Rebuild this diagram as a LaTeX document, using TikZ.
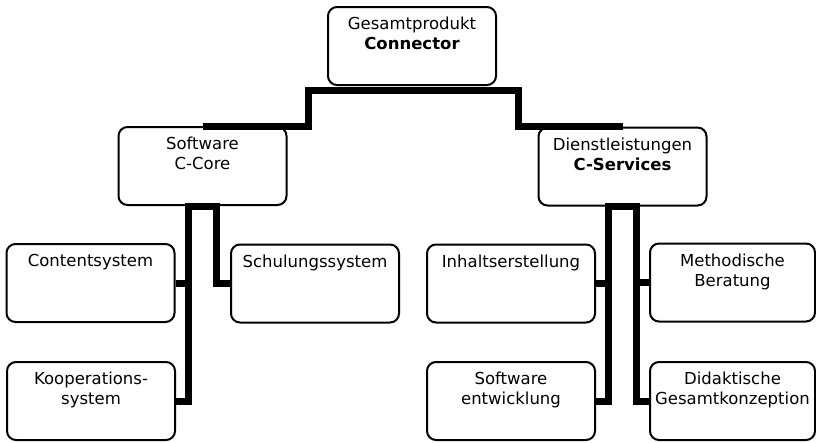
\documentclass[tikz,border=0pt]{standalone}
\usepackage{fontspec}
\setmainfont{DejaVu Sans}
\usetikzlibrary{calc}

\tikzset{
  box/.style={draw, rounded corners=9pt, line width=2pt, fill=white, inner sep=0pt,
    minimum width=168pt, minimum height=78pt, font=\fontsize{16.5}{20}\selectfont,
    execute at begin node={\begin{minipage}[c][58pt][t]{164pt}\centering},
    execute at end node={\end{minipage}}},
  conn/.style={line width=7pt}
}

\begin{document}
\begin{tikzpicture}[x=1pt, y=-1pt]
\useasboundingbox (0,0) rectangle (816,442);

\node[box] (top) at (412,46) {Gesamtprodukt\\\textbf{Connector}};
\node[box] (core) at (202.5,166) {Software\\C-Core};
\node[box] (serv) at (622.5,166.5) {Dienstleistungen\\\textbf{C-Services}};
\node[box] (content) at (90.5,283) {Contentsystem};
\node[box] (schulung) at (315,283.5) {Schulungssystem};
\node[box] (koop) at (91,401) {Kooperations-\\system};
\node[box] (inhalt) at (511,283.5) {Inhaltserstellung};
\node[box, minimum width=165pt] (method) at (732.5,282.5) {Methodische\\Beratung};
\node[box] (swentw) at (511,401) {Software\\entwicklung};
\node[box, minimum width=165pt] (didakt) at (732.5,401) {Didaktische\\Gesamtkonzeption};

% top level
\draw[conn] (core.north) -| ([xshift=-104pt,yshift=-4pt]top.south)
  -| ([xshift=106pt,yshift=-4pt]top.south) |- (serv.north);

% C-Core
\draw[conn] (content.east) -| ([xshift=-14pt]core.south) -- ([xshift=14pt]core.south) |- (schulung.west);
\draw[conn] (koop.east) -| ([xshift=-14pt]core.south);

% C-Services
\draw[conn] (inhalt.east) -| ([xshift=-14pt]serv.south) -- ([xshift=14pt]serv.south) |- (method.west);
\draw[conn] (swentw.east) -| ([xshift=-14pt]serv.south);
\draw[conn] (didakt.west) -| ([xshift=14pt]serv.south);

\end{tikzpicture}
\end{document}
